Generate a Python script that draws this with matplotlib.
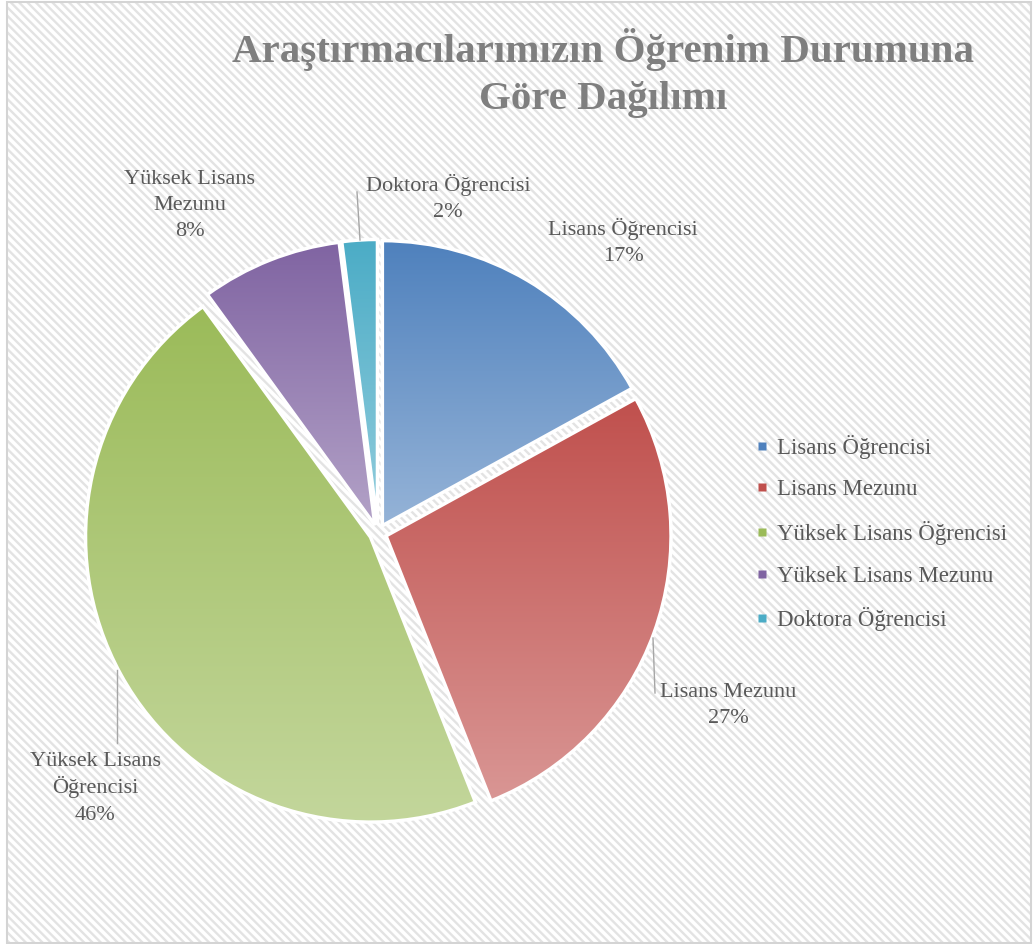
import numpy as np
import matplotlib.pyplot as plt
from matplotlib.patches import Rectangle
from matplotlib.lines import Line2D
from matplotlib.colors import to_rgb

# ---- data ----
categories = ["Lisans Öğrencisi", "Lisans Mezunu", "Yüksek Lisans Öğrencisi",
              "Yüksek Lisans Mezunu", "Doktora Öğrencisi"]
shares = [17, 27, 46, 8, 2]
slice_labels = ["Lisans Öğrencisi\n17%", "Lisans Mezunu\n27%",
                "Yüksek Lisans\nÖğrencisi\n46%", "Yüksek Lisans\nMezunu\n8%",
                "Doktora Öğrencisi\n2%"]
colors = ["#4F81BD", "#C0504D", "#9BBB59", "#8064A2", "#4BACC6"]
title = "Araştırmacılarımızın Öğrenim Durumuna\nGöre Dağılımı"

# ---- layout (pixels of the 1033x944 canvas) ----
W, H = 1033, 944
CX, CY, R = 378, 533, 285      # pie centre / radius
HALF = 330                     # half size of the square axes
TEXT = "#595959"
FONT = "Liberation Serif"
PITCH = 26.5                   # label line pitch, px

# label block centres, leader lines (None = no line)
label_pos = [(623, 242), (728, 704), (95, 787), (190, 204), (448, 198)]
leaders = [None, ((653, 638), (655, 693)), ((117, 670), (117, 743)),
           None, ((360, 240), (357, 192))]


def px(x, y):
    """canvas pixel -> pie data coords"""
    return (x - CX) / R, (CY - y) / R


plt.rcParams["hatch.linewidth"] = 1.7
fig = plt.figure(figsize=(W / 100, H / 100), dpi=100)

# hatched background + thin border
fig.patches.append(Rectangle((8 / W, 0), 1 - 9 / W, 1 - 2 / H, transform=fig.transFigure,
                             facecolor="white", edgecolor="#e3e3e3", hatch="\\\\\\\\",
                             linewidth=0, zorder=-2))
fig.patches.append(Rectangle((7 / W, 1 / H), 1 - 9 / W, 1 - 3 / H, transform=fig.transFigure,
                             facecolor="none", edgecolor="#d4d4d4", linewidth=1.5, zorder=-1))

ax = fig.add_axes([(CX - HALF) / W, (H - CY - HALF) / H, 2 * HALF / W, 2 * HALF / H])
ax.set_facecolor("none")

wedges, _ = ax.pie(shares, colors=colors, startangle=90, counterclock=False,
                   explode=[0.03] * len(shares), radius=1,
                   wedgeprops=dict(edgecolor="white", linewidth=2.5))

# vertical gradient inside every slice: full colour at top, lighter at bottom
t = np.linspace(0, 0.4, 256)[:, None, None]
for w, c in zip(wedges, colors):
    base = np.array(to_rgb(c))[None, None, :]
    grad = base + (1 - base) * t
    ext = w.get_path().get_extents()
    im = ax.imshow(grad, extent=[ext.x0, ext.x1, ext.y0, ext.y1], origin="upper",
                   aspect="auto", zorder=0.5, interpolation="bilinear")
    im.set_clip_path(w)
    w.set_facecolor("none")
    w.set_zorder(1)

lim = HALF / R
ax.set_xlim(-lim, lim)
ax.set_ylim(-lim, lim)
ax.set_aspect("equal")
ax.axis("off")

# data labels: one text per line so the pitch stays even
for lab, pos, ld in zip(slice_labels, label_pos, leaders):
    lines = lab.split("\n")
    n = len(lines)
    for i, line in enumerate(lines):
        ly = pos[1] + (i - (n - 1) / 2) * PITCH + 6
        x, y = px(pos[0], ly)
        ax.text(x, y, line, ha="center", va="baseline", fontsize=16,
                color=TEXT, family=FONT, clip_on=False)
    if ld is not None:
        (x0, y0), (x1, y1) = px(*ld[0]), px(*ld[1])
        ax.add_line(Line2D([x0, x1], [y0, y1], color="#a6a6a6", lw=1, clip_on=False))

fig.text(603 / W, 1 - 73 / H, title, ha="center", va="center", fontsize=29.5,
         fontweight="bold", color="#7f7f7f", family=FONT, linespacing=1.38)

handles = [Line2D([], [], marker="s", linestyle="none", markersize=6,
                  markerfacecolor=c, markeredgecolor="none") for c in colors]
leg = fig.legend(handles, categories, loc="center left",
                 bbox_to_anchor=(736 / W, 1 - 533 / H), frameon=False,
                 prop=dict(family=FONT, size=16.5), labelcolor=TEXT,
                 handlelength=0.5, handletextpad=0.4, labelspacing=0.9)

fig.savefig("out.png", dpi=100)
